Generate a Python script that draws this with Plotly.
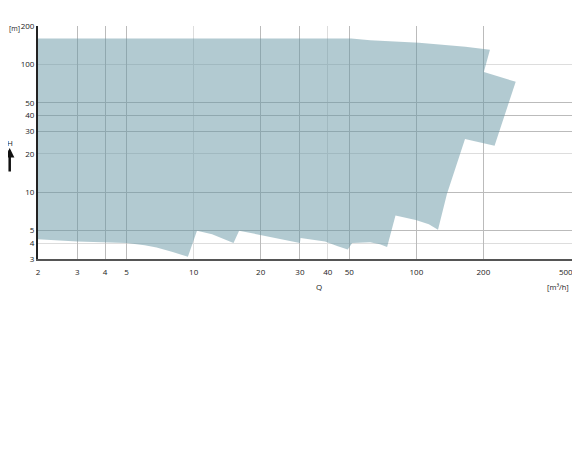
import math
import plotly.graph_objects as go

# Envelope of the pump performance range (Q in m³/h, H in m), traced clockwise
q_top = [2, 51, 62, 102.8, 166, 214]
h_top = [160, 159.8, 155, 148.2, 137.3, 130.5]
q_right = [201, 279.4, 224.5, 165.4, 137.2, 125.1, 113.8, 99.4, 80.6]
h_right = [87.3, 73.2, 23.1, 26.1, 9.69, 5.09, 5.6, 6.06, 6.57]
q_bottom = [73.9, 68.6, 62, 51.5, 49.2, 44.4, 38.9, 30.2, 30, 16, 15.1, 12.1,
            10.35, 9.42, 8.05, 6.82, 6.03, 5, 3, 2]
h_bottom = [3.73, 3.91, 4.05, 4.0, 3.56, 3.77, 4.12, 4.38, 4.0, 5.0, 4.0, 4.68,
            5.0, 3.12, 3.41, 3.69, 3.84, 4.0, 4.12, 4.28]

x_ticks = [2, 3, 4, 5, 10, 20, 30, 40, 50, 100, 200, 500]
y_ticks = [3, 4, 5, 10, 20, 30, 40, 50, 100, 200]
x_grid_dark = [3, 4, 5, 20, 30, 50, 100, 200]
y_grid_dark = [5, 10, 30, 40, 50]

x_range = [math.log10(2), math.log10(500)]
y_range = [math.log10(3), math.log10(200)]

FONT = "Open Sans"
TXT = "#222222"

# last x label sits at the right border; pad it so it stays inside the page
x_text = [str(v) for v in x_ticks]
x_text[-1] = x_text[-1] + "\u00a0" * 6

fig = go.Figure()
fig.add_trace(go.Scatter(
    x=q_top + q_right + q_bottom,
    y=h_top + h_right + h_bottom,
    mode="lines", fill="toself",
    fillcolor="rgba(101,149,163,0.5)",
    line=dict(width=0), hoverinfo="skip", showlegend=False,
))
# empty trace so the overlay axes (darker grid lines) are drawn
fig.add_trace(go.Scatter(x=[], y=[], xaxis="x2", yaxis="y2", showlegend=False))

# page body adds an 8px margin on every side; keep the page within 580x450
fig.update_layout(
    width=564, height=434,
    margin=dict(l=30, r=0, t=18, b=183, autoexpand=False),
    paper_bgcolor="white", plot_bgcolor="white",
    font=dict(family=FONT, size=8, color=TXT),
    showlegend=False,
    xaxis=dict(
        type="log", range=x_range, tickmode="array", automargin=False,
        tickvals=x_ticks, ticktext=x_text, ticklabeloverflow="allow",
        showgrid=True, gridcolor="#dddddd", gridwidth=1,
        showline=True, linecolor="#555555", linewidth=2,
        ticks="", ticklabelstandoff=4, zeroline=False,
        tickfont=dict(family=FONT, size=8, color=TXT),
    ),
    yaxis=dict(
        type="log", range=y_range, tickmode="array", automargin=False,
        tickvals=y_ticks, ticktext=[str(v) for v in y_ticks],
        showgrid=True, gridcolor="#dddddd", gridwidth=1,
        showline=True, linecolor="#222222", linewidth=2,
        ticks="", ticklabelstandoff=0, zeroline=False,
        tickfont=dict(family=FONT, size=8, color=TXT),
    ),
    xaxis2=dict(
        type="log", range=x_range, overlaying="x", anchor="y2", automargin=False,
        tickmode="array", tickvals=x_grid_dark, showticklabels=False,
        showgrid=True, gridcolor="#bbbbbb", gridwidth=1,
        showline=False, ticks="", zeroline=False,
    ),
    yaxis2=dict(
        type="log", range=y_range, overlaying="y", anchor="x2", automargin=False,
        tickmode="array", tickvals=y_grid_dark, showticklabels=False,
        showgrid=True, gridcolor="#bbbbbb", gridwidth=1,
        showline=False, ticks="", zeroline=False,
    ),
    annotations=[
        dict(text="[m]", xref="paper", yref="paper", x=-0.0295, y=0.99,
             xanchor="right", yanchor="middle", showarrow=False,
             font=dict(family=FONT, size=7, color=TXT)),
        dict(text="H", xref="paper", yref="paper", x=-0.053, y=0.50,
             xanchor="center", yanchor="middle", showarrow=False,
             font=dict(family=FONT, size=8, color=TXT)),
        dict(text="", xref="paper", yref="paper", x=-0.053, y=0.476,
             ax=0, ay=25, showarrow=True, arrowhead=2, arrowsize=0.75,
             arrowwidth=2.5, arrowcolor="#111111"),
        dict(text="Q", xref="paper", yref="paper", x=0.527, y=-0.119,
             xanchor="center", yanchor="middle", showarrow=False,
             font=dict(family=FONT, size=8, color=TXT)),
        dict(text="[m³/h]", xref="paper", yref="paper", x=0.999, y=-0.121,
             xanchor="right", yanchor="middle", showarrow=False,
             font=dict(family=FONT, size=7.5, color=TXT)),
    ],
)

fig.write_html("out.html")
